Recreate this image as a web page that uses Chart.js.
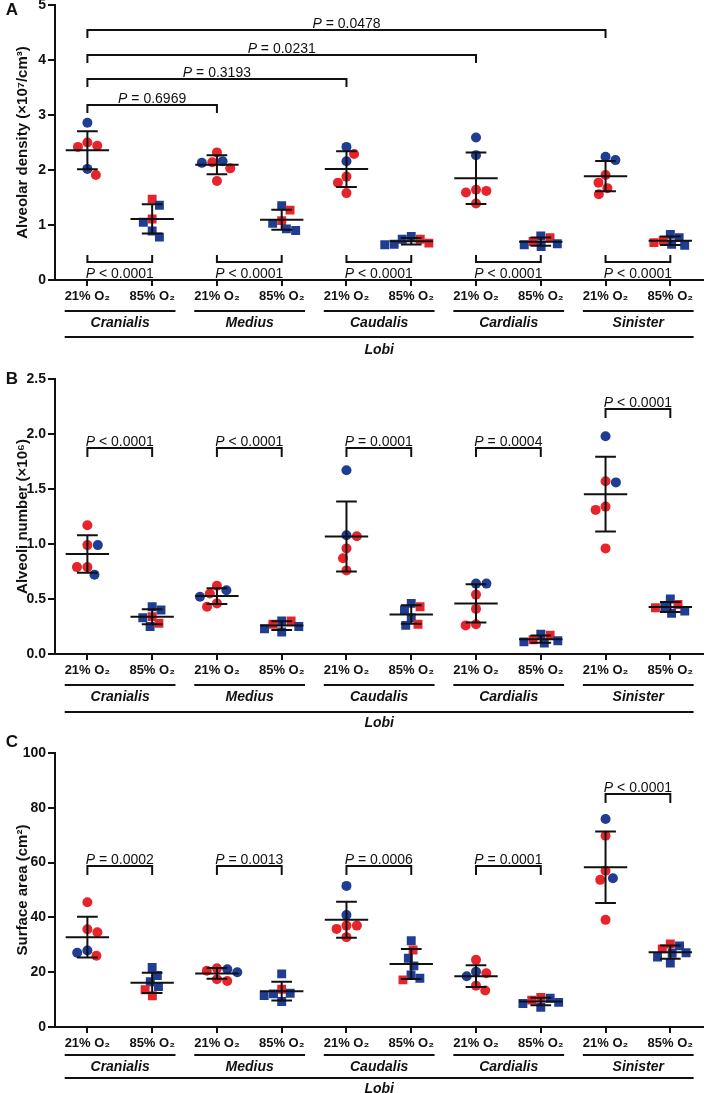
<!DOCTYPE html>
<html><head><meta charset="utf-8">
<script src="https://cdn.jsdelivr.net/npm/chart.js@4.4.1/dist/chart.umd.min.js"></script>
<style>
html,body{margin:0;padding:0;background:#fff;width:709px;height:1093px;overflow:hidden;position:relative}
canvas{position:absolute;left:0}
</style></head><body>
<canvas id="cA" width="709" height="375" style="top:-15px"></canvas>
<canvas id="cB" width="709" height="371" style="top:359px"></canvas>
<canvas id="cC" width="709" height="360" style="top:733px"></canvas>
<script>
// ---------------- DATA ----------------
const lobes = ['Cranialis', 'Medius', 'Caudalis', 'Cardialis', 'Sinister'];
const oxygen = ['21% O₂', '85% O₂'];
const groupTitle = 'Lobi';

// Panel A: alveolar density (x10^7/cm^3); groups ordered lobe by lobe, 21% then 85%
const densityValues = [
  [2.86, 2.50, 2.44, 2.42, 2.02, 1.91],
  [1.47, 1.36, 1.11, 1.05, 0.89, 0.78],
  [2.32, 2.16, 2.14, 2.13, 2.03, 1.80],
  [1.35, 1.27, 1.08, 1.03, 0.93, 0.90],
  [2.42, 2.29, 2.16, 1.88, 1.77, 1.58],
  [0.79, 0.74, 0.74, 0.67, 0.65, 0.64],
  [2.59, 2.27, 1.64, 1.62, 1.59, 1.39],
  [0.80, 0.77, 0.70, 0.66, 0.64, 0.61],
  [2.24, 2.18, 1.91, 1.77, 1.67, 1.56],
  [0.83, 0.77, 0.72, 0.68, 0.65, 0.63]
];
const densitySubgroup = [
  ['b','r','r','r','b','r'], ['r','b','r','b','b','b'],
  ['r','b','r','b','r','r'], ['b','r','r','b','b','b'],
  ['b','r','b','r','r','r'], ['b','r','b','r','b','b'],
  ['b','b','r','r','r','r'], ['b','r','r','b','b','b'],
  ['b','b','r','r','r','r'], ['b','b','r','r','b','b']
];

// Panel B: alveoli number (x10^6)
const numberValues = [
  [1.17, 0.99, 0.99, 0.79, 0.79, 0.72],
  [0.43, 0.40, 0.34, 0.33, 0.28, 0.25],
  [0.62, 0.58, 0.55, 0.52, 0.46, 0.43],
  [0.30, 0.30, 0.27, 0.25, 0.23, 0.20],
  [1.67, 1.08, 1.07, 0.96, 0.87, 0.76],
  [0.46, 0.43, 0.40, 0.33, 0.27, 0.26],
  [0.64, 0.64, 0.54, 0.41, 0.27, 0.26],
  [0.18, 0.17, 0.13, 0.12, 0.11, 0.10],
  [1.98, 1.57, 1.56, 1.34, 1.31, 0.96],
  [0.50, 0.45, 0.43, 0.42, 0.39, 0.37]
];
const numberSubgroup = [
  ['r','r','b','r','r','b'], ['b','b','r','b','r','b'],
  ['r','b','r','b','r','r'], ['b','r','r','b','b','b'],
  ['b','b','r','r','r','r'], ['b','r','b','b','r','b'],
  ['b','b','r','r','r','r'], ['b','r','r','b','b','b'],
  ['b','r','b','r','r','r'], ['b','r','b','r','b','b']
];

// Panel C: surface area (cm^2)
const surfaceValues = [
  [45.5, 35.7, 34.6, 27.9, 27.1, 26.0],
  [21.7, 18.8, 16.5, 14.8, 13.6, 11.4],
  [21.4, 21.1, 20.5, 20.0, 17.4, 16.8],
  [19.4, 13.8, 12.3, 12.1, 11.5, 9.3],
  [51.5, 40.9, 37.0, 37.0, 35.8, 32.8],
  [31.5, 28.1, 25.1, 22.3, 19.0, 17.8, 17.2],
  [24.5, 20.2, 19.6, 18.5, 15.1, 13.3],
  [10.8, 10.5, 9.8, 9.0, 8.6, 7.2],
  [75.9, 69.8, 57.0, 54.3, 53.7, 39.1],
  [30.3, 29.6, 28.5, 27.1, 26.9, 25.5, 23.3]
];
const surfaceSubgroup = [
  ['r','r','r','b','b','r'], ['b','b','b','b','r','r'],
  ['r','b','r','b','r','r'], ['b','r','b','b','b','b'],
  ['b','b','r','r','r','r'], ['b','r','b','b','b','b','r'],
  ['r','b','r','b','r','r'], ['r','b','r','b','b','b'],
  ['b','r','r','b','r','r'], ['r','b','r','b','b','b','b']
];

// Comparisons: group indexes, comparison operator and P value
const densityPairs = [
  [0, 1, '<', '0.0001'], [2, 3, '<', '0.0001'], [4, 5, '<', '0.0001'],
  [6, 7, '<', '0.0001'], [8, 9, '<', '0.0001'],
  [0, 2, '=', '0.6969'], [0, 4, '=', '0.3193'], [0, 6, '=', '0.0231'], [0, 8, '=', '0.0478']
];
const numberPairs = [
  [0, 1, '<', '0.0001'], [2, 3, '<', '0.0001'], [4, 5, '=', '0.0001'],
  [6, 7, '=', '0.0004'], [8, 9, '<', '0.0001']
];
const surfacePairs = [
  [0, 1, '=', '0.0002'], [2, 3, '=', '0.0013'], [4, 5, '=', '0.0006'],
  [6, 7, '=', '0.0001'], [8, 9, '<', '0.0001']
];

// ---------------- STYLE / LAYOUT ----------------
const FONT = '"Liberation Sans", Arial, Helvetica, sans-serif';
const COLORS = { r: '#e8242b', b: '#1f3d92' };
const INK = '#111111';

// bracket placement (value level on y axis, side, leg length in px)
const densityBracketLayout = [
  [0.33,'below',7],[0.33,'below',7],[0.33,'below',7],[0.33,'below',7],[0.33,'below',7],
  [3.18,'above',8],[3.65,'above',8],[4.09,'above',8],[4.545,'above',8]
];
const numberBracketLayout = [[1.87,'above',9],[1.87,'above',9],[1.87,'above',9],[1.87,'above',9],[2.225,'above',9]];
const surfaceBracketLayout = [[58.9,'above',9],[58.9,'above',9],[58.9,'above',9],[58.9,'above',9],[85,'above',9]];

const panels = [
  { id: 'cA', letter: 'A', title: 'Alveolar density (×10⁷/cm³)', values: densityValues, sub: densitySubgroup,
    yMax: 5, yStep: 1, fmt: v => String(v), pairs: densityPairs, bl: densityBracketLayout,
    top: -15, xH: 80, plotH: 275, letterY: 10, under: { u: 31, n: 43, l: 57, t: 70 } },
  { id: 'cB', letter: 'B', title: 'Alveoli number (×10⁶)', values: numberValues, sub: numberSubgroup,
    yMax: 2.5, yStep: 0.5, fmt: v => v.toFixed(1), pairs: numberPairs, bl: numberBracketLayout,
    top: 359, xH: 76, plotH: 275, letterY: 379, under: { u: 31, n: 43, l: 58, t: 69 } },
  { id: 'cC', letter: 'C', title: 'Surface area (cm²)', values: surfaceValues, sub: surfaceSubgroup,
    yMax: 100, yStep: 20, fmt: v => String(v), pairs: surfacePairs, bl: surfaceBracketLayout,
    top: 733, xH: 66, plotH: 274, letterY: 742, under: { u: 28, n: 40, l: 51, t: 62 } }
];

const PX_PER_X = 65.3;

function swarm(vals, pxPerY, D) {
  const order = vals.map((v, i) => i).sort((a, b) => vals[b] - vals[a]);
  const placed = [];
  const off = new Array(vals.length).fill(0);
  let flip = 1;
  for (const i of order) {
    const yi = vals[i] * pxPerY;
    const cands = [0];
    for (const p of placed) {
      const dy = yi - p.y;
      if (Math.abs(dy) < D) {
        const dx = Math.sqrt(D * D - dy * dy);
        cands.push(p.x + dx, p.x - dx);
      }
    }
    cands.sort((a, b) => (Math.abs(a) - Math.abs(b)) || (flip * (b - a)));
    let best = 0;
    for (const c of cands) {
      if (placed.every(p => Math.hypot(c - p.x, yi - p.y) >= D - 0.01)) { best = c; break; }
    }
    if (best !== 0) flip = -flip;
    placed.push({ x: best, y: yi });
    off[i] = best / PX_PER_X;
  }
  return off;
}

function stats(vals) {
  const n = vals.length;
  const m = vals.reduce((a, b) => a + b, 0) / n;
  const sd = Math.sqrt(vals.reduce((a, b) => a + (b - m) * (b - m), 0) / (n - 1));
  return { m, sd };
}

const annotPlugin = {
  id: 'annot',
  afterDatasetsDraw(chart) {
    const P = chart.options.plugins.annot.panel;
    const ctx = chart.ctx, x = chart.scales.x, y = chart.scales.y;
    ctx.save();
    ctx.strokeStyle = INK; ctx.lineWidth = 2; ctx.lineCap = 'butt';
    // mean +/- SD
    P.values.forEach((vals, g) => {
      const { m, sd } = stats(vals);
      const cx = x.getPixelForValue(g + 1);
      const wMean = x.getPixelForValue(g + 1 + 0.335) - cx;
      const wCap = x.getPixelForValue(g + 1 + 0.16) - cx;
      const ym = y.getPixelForValue(m), yt = y.getPixelForValue(m + sd), yb = y.getPixelForValue(m - sd);
      ctx.beginPath();
      ctx.moveTo(cx, yt); ctx.lineTo(cx, yb);
      ctx.moveTo(cx - wMean, ym); ctx.lineTo(cx + wMean, ym);
      ctx.moveTo(cx - wCap, yt); ctx.lineTo(cx + wCap, yt);
      ctx.moveTo(cx - wCap, yb); ctx.lineTo(cx + wCap, yb);
      ctx.stroke();
    });
    ctx.restore();
  },
  afterDraw(chart) {
    const P = chart.options.plugins.annot.panel;
    const ctx = chart.ctx, x = chart.scales.x, y = chart.scales.y;
    const base = chart.chartArea.bottom;
    ctx.save();
    ctx.strokeStyle = INK; ctx.fillStyle = INK; ctx.lineWidth = 2;
    // brackets with P values
    P.pairs.forEach((pr, k) => {
      const [a, b, op, pv] = pr;
      const [lvl, side, leg] = P.bl[k];
      const xa = x.getPixelForValue(a + 1), xb = x.getPixelForValue(b + 1);
      const yl = Math.round(y.getPixelForValue(lvl));
      const dir = side === 'above' ? 1 : -1;
      ctx.beginPath();
      ctx.moveTo(xa, yl + dir * leg); ctx.lineTo(xa, yl); ctx.lineTo(xb, yl); ctx.lineTo(xb, yl + dir * leg);
      ctx.stroke();
      const rest = ' ' + op + ' ' + pv;
      ctx.font = 'italic 14px ' + FONT; const wP = ctx.measureText('P').width;
      ctx.font = '14px ' + FONT; const wR = ctx.measureText(rest).width;
      const x0 = (xa + xb) / 2 - (wP + wR) / 2;
      const by = side === 'above' ? yl - 2 : yl + 15.5;
      ctx.textBaseline = 'alphabetic'; ctx.textAlign = 'left';
      ctx.font = 'italic 14px ' + FONT; ctx.fillText('P', x0, by);
      ctx.font = '14px ' + FONT; ctx.fillText(rest, x0 + wP, by);
    });
    // lobe underlines and names
    const U = P.under;
    ctx.textAlign = 'center'; ctx.textBaseline = 'middle';
    ctx.font = 'italic bold 14px ' + FONT;
    lobes.forEach((name, k) => {
      const x1 = x.getPixelForValue(2 * k + 1 - 0.35), x2 = x.getPixelForValue(2 * k + 2 + 0.36);
      ctx.beginPath(); ctx.moveTo(x1, base + U.u); ctx.lineTo(x2, base + U.u); ctx.stroke();
      ctx.fillText(name, (x1 + x2) / 2, base + U.n);
    });
    const l1 = x.getPixelForValue(1 - 0.35), l2 = x.getPixelForValue(10 + 0.36);
    ctx.beginPath(); ctx.moveTo(l1, base + U.l); ctx.lineTo(l2, base + U.l); ctx.stroke();
    ctx.fillText(groupTitle, (l1 + l2) / 2, base + U.t);
    // panel letter
    ctx.font = 'bold 17px ' + FONT;
    ctx.fillText(P.letter, 12, P.letterY - P.top);
    ctx.restore();
  }
};

panels.forEach(P => {
  const pxPerY = P.plotH / P.yMax;
  const datasets = P.values.map((vals, g) => {
    const circle = g % 2 === 0;
    const off = swarm(vals, pxPerY, circle ? 10.5 : 9.5);
    return {
      data: vals.map((v, j) => ({ x: g + 1 + off[j], y: v })),
      backgroundColor: P.sub[g].map(s => COLORS[s]),
      borderWidth: 0,
      pointStyle: circle ? 'circle' : 'rect',
      pointRadius: circle ? 5 : 6.3,
      pointHoverRadius: circle ? 5 : 6.3,
      showLine: false
    };
  });
  new Chart(document.getElementById(P.id), {
    type: 'scatter',
    data: { datasets },
    options: {
      responsive: false, animation: false, devicePixelRatio: 1,
      layout: { padding: { top: 20, left: 0, right: 1, bottom: 0 } },
      plugins: { legend: { display: false }, tooltip: { enabled: false }, annot: { panel: P } },
      scales: {
        x: {
          type: 'linear', min: 0.5, max: 10.5,
          afterBuildTicks: s => { s.ticks = [1,2,3,4,5,6,7,8,9,10].map(v => ({ value: v })); },
          afterFit: s => { s.height = P.xH; },
          grid: { drawOnChartArea: false, drawTicks: true, tickLength: 6, color: INK, lineWidth: 2 },
          border: { color: INK, width: 2 },
          ticks: { callback: v => oxygen[(Math.round(v) - 1) % 2], font: { family: FONT, size: 13, weight: 'bold' },
                   color: INK, padding: 3, maxRotation: 0, autoSkip: false }
        },
        y: {
          min: 0, max: P.yMax,
          afterBuildTicks: s => { const t = []; for (let v = 0; v <= P.yMax + 1e-9; v += P.yStep) t.push({ value: +v.toFixed(2) }); s.ticks = t; },
          afterFit: s => { s.width = 55; },
          grid: { drawOnChartArea: false, drawTicks: true, tickLength: 7, color: INK, lineWidth: 2 },
          border: { color: INK, width: 2 },
          ticks: { callback: v => P.fmt(v), font: { family: FONT, size: 14, weight: 'bold' }, color: INK, padding: 2 },
          title: { display: true, text: P.title, font: { family: FONT, size: 15, weight: 'bold' }, color: INK,
                   padding: { top: 14, bottom: 0 } }
        }
      }
    },
    plugins: [annotPlugin]
  });
});
</script>
</body></html>
